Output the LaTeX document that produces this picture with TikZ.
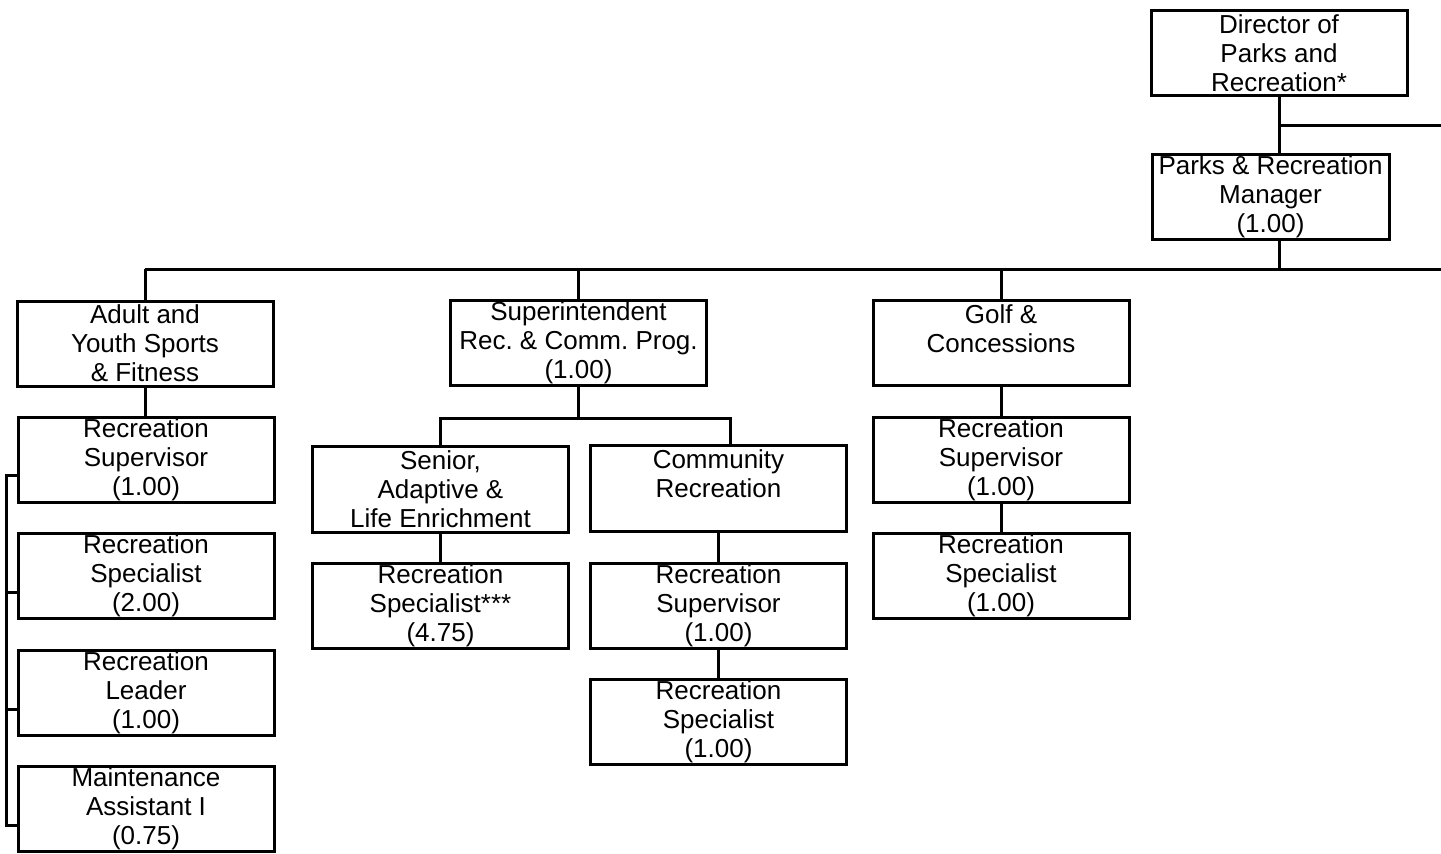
\documentclass[tikz,border=0pt]{standalone}
\usepackage{fontspec}
\setmainfont{Liberation Sans}
\usetikzlibrary{calc}
\frenchspacing

\begin{document}
\begin{tikzpicture}[x=1pt,y=-1pt,
  line width=3pt,
  font=\fontsize{26}{29}\selectfont,
  boxn/.style={draw=black, line width=3pt, minimum width=256pt,
    minimum height=85pt, inner sep=0pt, align=center},
  widen/.style={minimum height=86pt}]
  \useasboundingbox (0,0) rectangle (1441,854);
  \node[boxn] (dir) at (1279,53) {Director of\\Parks and\\Recreation*};
  \node[boxn, minimum width=237pt] (mgr) at (1270.5,196.5) {Parks \& Recreation\\Manager\\(1.00)};
  \node[boxn] (adult) at (145,343.5) {Adult and\\Youth Sports\\\& Fitness};
  \node[boxn] (supt) at (578.5,343) {Superintendent\\Rec. \& Comm. Prog.\\(1.00)};
  \node[boxn] (golf) at (1001,343) {Golf \&\\Concessions\\\mbox{}};
  \node[boxn] (asup) at (146,459.5) {Recreation\\Supervisor\\(1.00)};
  \node[boxn] (aspec) at (146,576) {Recreation\\Specialist\\(2.00)};
  \node[boxn] (alead) at (146,693) {Recreation\\Leader\\(1.00)};
  \node[boxn] (amaint) at (146,809) {Maintenance\\Assistant I\\(0.75)};
  \node[boxn, widen] (senior) at (440.5,489) {Senior,\\Adaptive \&\\Life Enrichment};
  \node[boxn, widen] (comm) at (718.5,488.5) {Community\\Recreation\\\mbox{}};
  \node[boxn] (sspec) at (440.5,605.5) {Recreation\\Specialist***\\(4.75)};
  \node[boxn] (csup) at (718.5,605.5) {Recreation\\Supervisor\\(1.00)};
  \node[boxn] (cspec) at (718.5,722) {Recreation\\Specialist\\(1.00)};
  \node[boxn] (gsup) at (1001,459.5) {Recreation\\Supervisor\\(1.00)};
  \node[boxn] (gspec) at (1001,576) {Recreation\\Specialist\\(1.00)};
  \coordinate (dirend) at (1441,125);
  \coordinate (busend) at (1441,269);
  \coordinate (ctap) at (730,418);
  \draw (dir.south) -- (dir.south |- mgr.north);
  \draw (dir.south |- dirend) -- (dirend);
  \draw (dir.south |- mgr.south) -- (dir.south |- busend);
  \draw (adult.north |- busend) -- (busend);
  \draw (adult.north |- busend) -- (adult.north);
  \draw (supt.north |- busend) -- (supt.north);
  \draw (golf.north |- busend) -- (golf.north);
  \draw (adult.south) -- (adult.south |- asup.north);
  \draw ([yshift=-16pt]asup.west) -- ++(-10,0) |- ([yshift=-16pt]amaint.west);
  \draw ([yshift=-16pt]aspec.west) -- ++(-10,0);
  \draw ([yshift=-16pt]alead.west) -- ++(-10,0);
  \draw (supt.south) -- (supt.south |- ctap);
  \draw (senior.north) |- (ctap) -- (ctap |- comm.north);
  \draw (senior.south) -- (sspec.north);
  \draw (comm.south) -- (csup.north);
  \draw (csup.south) -- (cspec.north);
  \draw (golf.south) -- (gsup.north);
  \draw (gsup.south) -- (gspec.north);
\end{tikzpicture}
\end{document}
